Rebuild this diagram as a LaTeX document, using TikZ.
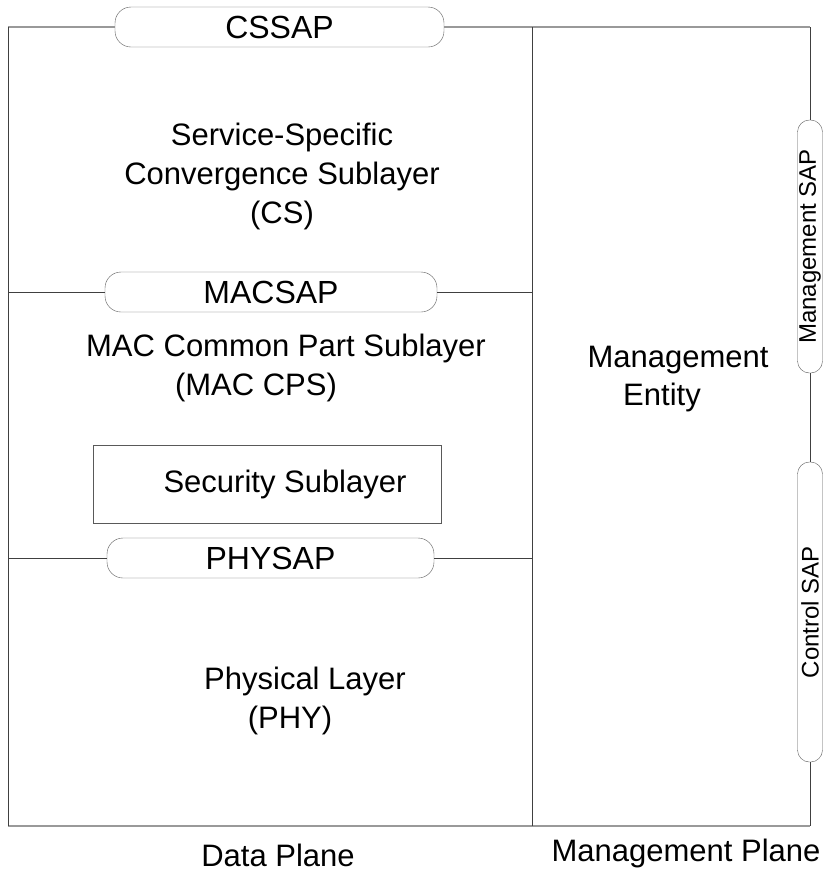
\documentclass[tikz,border=0pt]{standalone}
\usepackage{fontspec}
\setmainfont{Liberation Sans}
\usetikzlibrary{calc}

\begin{document}
\begin{tikzpicture}[x=1pt,y=-1pt,
  sap/.style={draw=black!65, rounded corners=16pt, minimum height=40pt, inner sep=0pt,
    font=\fontsize{32}{36}\selectfont},
  sidesap/.style={draw=black!65, rounded corners=12pt, minimum height=25pt, inner sep=0pt,
    rotate=90, font=\fontsize{24}{26}\selectfont},
  label/.style={font=\fontsize{31}{39}\selectfont, align=center, inner sep=0pt},
  frame/.style={draw=black!75, line width=0.8pt},
  edgeline/.style={draw=black!40, line width=1.2pt}]
  \useasboundingbox (0,0) rectangle (823,871);
  % corners of the frame
  \coordinate (tl) at (8,27);
  \coordinate (tr) at (810,27);
  \coordinate (bl) at (8,826);
  \coordinate (br) at (810,826);
  \coordinate (tm) at (532,27);
  \coordinate (bm) at (532,826);
  \coordinate (macl) at (8,292);
  \coordinate (macr) at (532,292);
  \coordinate (phyl) at (8,558);
  \coordinate (phyr) at (532,558);

  % service access points
  \node[sap, minimum width=329pt] (cssap) at (279.5,27) {CSSAP};
  \node[sap, minimum width=332pt] (macsap) at (271,292) {MACSAP};
  \node[sap, minimum width=327pt] (physap) at (270.5,558) {PHYSAP};
  \node[sidesap, minimum width=253pt] (mgmtsap) at (810,246.5) {Management SAP};
  \node[sidesap, minimum width=300pt] (ctrlsap) at (810,612) {Control SAP};

  % frame
  \draw[edgeline] (tl) -- (cssap.west);
  \draw[edgeline] (cssap.east) -- (tr);
  \draw[edgeline] (bl) -- (br);
  \draw[frame] (tl) -- (bl);
  \draw[frame] (tm) -- (bm);
  \draw[frame] (tr) -- (mgmtsap.east);
  \draw[frame] (mgmtsap.west) -- (ctrlsap.east);
  \draw[frame] (ctrlsap.west) -- (br);
  \draw[frame] (macl) -- (macsap.west);
  \draw[frame] (macsap.east) -- (macr);
  \draw[frame] (phyl) -- (physap.west);
  \draw[frame] (physap.east) -- (phyr);

  \node[draw=black!65, minimum width=348pt, minimum height=78pt] (secbox) at (267,484) {};
  \node[label] (sectext) at (285,484) {Security Sublayer};

  \node[label] (cs) at (282,176) {Service-Specific\\Convergence Sublayer\\(CS)};
  \node[label] (maccommon) at (286,348) {MAC Common Part Sublayer};
  \node[label] (maccps) at (256,387) {(MAC CPS)};
  \node[label] (mgmt) at (678,360) {Management};
  \node[label] (entity) at (662,397) {Entity};
  \node[label] (phy) at (305,681) {Physical Layer};
  \node[label] (phyabbr) at (290,720) {(PHY)};
  \node[label] (dataplane) at (278,855) {Data Plane};
  \node[label] (mgmtplane) at (686,853) {Management Plane};
\end{tikzpicture}
\end{document}
